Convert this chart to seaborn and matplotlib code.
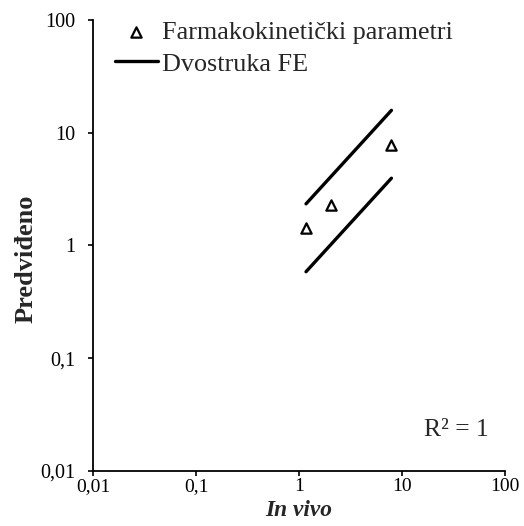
import matplotlib
matplotlib.use("Agg")
import matplotlib.pyplot as plt
import seaborn as sns
import pandas as pd
from matplotlib.ticker import FixedLocator, FixedFormatter, NullLocator

# Data
in_vivo = [1.17, 2.04, 7.9]
predicted = [1.43, 2.3, 7.8]
fe_x = [1.17, 7.9]
fe_upper = [2.34, 15.8]
fe_lower = [0.585, 3.95]
tick_vals = [0.01, 0.1, 1, 10, 100]
tick_labels = ["0,01", "0,1", "1", "10", "100"]

sns.set_style("ticks")
plt.rcParams['font.family'] = ['Liberation Serif', 'DejaVu Serif']

fig = plt.figure(figsize=(5.24, 5.26), dpi=100)
ax = fig.add_axes([0.1775, 0.1046, 0.7862, 0.8574])

pts = pd.DataFrame({"x": in_vivo, "y": predicted})
sns.scatterplot(data=pts, x="x", y="y", ax=ax, marker="^", s=55,
                facecolor="white", edgecolor="black", linewidth=1.6,
                label="Farmakokinetički parametri", zorder=3)
up = pd.DataFrame({"x": fe_x, "y": fe_upper})
lo = pd.DataFrame({"x": fe_x, "y": fe_lower})
sns.lineplot(data=up, x="x", y="y", ax=ax, color="black", linewidth=2.4,
             label="Dvostruka FE", solid_capstyle="round")
sns.lineplot(data=lo, x="x", y="y", ax=ax, color="black", linewidth=2.4,
             solid_capstyle="round")

ax.set_xscale("log")
ax.set_yscale("log")
ax.set_xlim(0.01, 100)
ax.set_ylim(0.01, 100)
for axis in (ax.xaxis, ax.yaxis):
    axis.set_major_locator(FixedLocator(tick_vals))
    axis.set_major_formatter(FixedFormatter(tick_labels))
    axis.set_minor_locator(NullLocator())
ax.tick_params(axis="both", direction="out", length=3.6, width=1.2,
               labelsize=14, colors="black")
ax.tick_params(axis="y", pad=9.4, labelsize=14.5)
ax.tick_params(axis="x", pad=1.5)
for s in ("top", "right"):
    ax.spines[s].set_visible(False)
for s in ("left", "bottom"):
    ax.spines[s].set_linewidth(1.3)
    ax.spines[s].set_color("black")

ax.set_xlabel("In vivo", fontsize=16.8, fontweight="bold", style="italic")
ax.xaxis.set_label_coords(0.5, -0.0636)
ax.set_ylabel("Predviđeno", fontsize=19, fontweight="bold")
ax.yaxis.set_label_coords(-0.1340, 0.470)

ax.text(0.883, 0.091, "R² = 1", transform=ax.transAxes, fontsize=18.4,
        ha="center", va="center")

leg = ax.legend(loc="upper left", bbox_to_anchor=(0.053, 0.998), frameon=False,
                fontsize=18.8, handlelength=1.65, handletextpad=0.15,
                labelspacing=0.31, borderaxespad=0, borderpad=0)

fig.savefig("out.png", dpi=100, facecolor="white")
